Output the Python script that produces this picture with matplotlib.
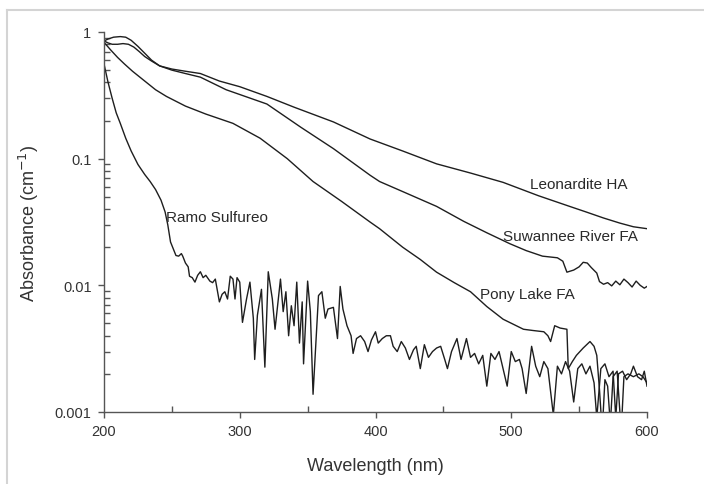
import matplotlib
matplotlib.use("Agg")
import matplotlib.pyplot as plt
from matplotlib.lines import Line2D
from matplotlib.ticker import NullFormatter

plt.rcParams['font.family'] = ['Liberation Sans', 'DejaVu Sans']

# wavelength (nm) / absorbance (cm^-1)
leonardite_x = [200, 203, 206, 210, 214, 218, 222, 226, 230, 235, 241, 250, 260, 271, 285,
                300, 320, 340, 369, 396, 420, 445, 470, 494, 520, 543, 555, 568, 580, 590, 600]
leonardite_y = [0.85, 0.82, 0.80, 0.80, 0.81, 0.80, 0.76, 0.70, 0.64, 0.59, 0.54, 0.51, 0.49,
                0.47, 0.41, 0.37, 0.31, 0.255, 0.195, 0.143, 0.115, 0.091, 0.077, 0.065,
                0.051, 0.042, 0.038, 0.034, 0.031, 0.029, 0.028]

suwannee_x = [200, 203, 207, 212, 216, 220, 225, 230, 235, 241, 250, 260, 271, 290, 320, 345,
              369, 396, 403, 420, 445, 465, 482, 499, 511, 523, 534, 538, 541, 546, 550, 553,
              556, 559, 563, 565, 568, 571, 574, 577, 580, 583, 586, 589, 592, 595, 598, 600]
suwannee_y = [0.85, 0.88, 0.91, 0.92, 0.91, 0.86, 0.77, 0.68, 0.60, 0.54, 0.50, 0.47, 0.44,
              0.35, 0.27, 0.177, 0.12, 0.074, 0.066, 0.055, 0.042, 0.032, 0.026, 0.0213,
              0.0188, 0.017, 0.0165, 0.0155, 0.0127, 0.0132, 0.0140, 0.0152, 0.0150, 0.0138,
              0.0125, 0.0107, 0.0102, 0.0105, 0.0099, 0.0108, 0.0101, 0.0112, 0.0105, 0.0097,
              0.0108, 0.0100, 0.0095, 0.0098]

pony_x = [200, 205, 210, 215, 221, 230, 238, 246, 260, 275, 295, 315, 335, 354, 375, 396, 403,
          420, 433, 445, 458, 470, 482, 494, 502, 509, 516, 524, 527, 529, 532, 536, 541, 542,
          545, 548, 553, 558, 561, 563, 565, 567, 569, 571, 573, 575, 578, 581, 583, 586, 590,
          594, 597, 600]
pony_y = [0.83, 0.72, 0.63, 0.56, 0.49, 0.41, 0.35, 0.31, 0.26, 0.225, 0.19, 0.145, 0.10,
          0.066, 0.046, 0.0316, 0.028, 0.020, 0.016, 0.0127, 0.0105, 0.0089, 0.0068, 0.0054,
          0.0049, 0.0045, 0.0044, 0.0043, 0.0040, 0.0036, 0.0048, 0.0046, 0.0045, 0.0022,
          0.0025, 0.0028, 0.0032, 0.0036, 0.0033, 0.0028, 0.0015, 0.0007, 0.0018, 0.0016,
          0.0008, 0.0019, 0.0021, 0.0007, 0.0019, 0.0020, 0.0019, 0.0020, 0.0019, 0.0017]

ramo_x = [200, 203, 206, 209, 212, 216, 220, 225, 230, 234, 238, 242, 245, 247, 249, 251, 253,
          255, 257, 258, 260, 262, 263, 265, 267, 269, 271, 273, 275, 278, 280, 282, 285, 287,
          289, 291, 293, 295, 296.5, 298, 300, 302, 305, 307.5, 310, 311, 313, 316, 318.5, 321,
          324, 326, 330, 332, 334, 336, 338, 340, 342, 344, 346, 347, 350, 352, 354, 358, 360.5,
          363, 365, 369, 372, 374, 376, 379, 382, 383.5, 386, 389, 392, 394.5, 397, 400, 402,
          405, 408, 411, 413, 416, 419, 422, 425, 428, 430, 433, 436, 439, 442, 445, 448, 451,
          453, 456, 460, 463, 467, 470, 473, 476, 479, 482, 485, 488, 491, 494, 497, 500, 503,
          506, 508, 511, 515, 518, 521, 524, 527, 531, 534, 537, 540, 543, 546, 549, 552, 555,
          558, 561, 563, 566, 569, 572, 575, 577, 579, 582, 585, 588, 590, 593, 596, 598, 600]
ramo_y = [0.56, 0.40, 0.30, 0.23, 0.19, 0.145, 0.115, 0.090, 0.075, 0.066, 0.057, 0.047,
          0.038, 0.030, 0.022, 0.0194, 0.0172, 0.017, 0.0178, 0.0170, 0.0150, 0.0140, 0.0118,
          0.0115, 0.0106, 0.0120, 0.0128, 0.0115, 0.0120, 0.0108, 0.0105, 0.0112, 0.0074,
          0.0085, 0.0089, 0.0078, 0.0118, 0.0112, 0.0078, 0.0115, 0.0106, 0.0051, 0.0078,
          0.0106, 0.0055, 0.0026, 0.0058, 0.0093, 0.00226, 0.0128, 0.0078, 0.0045, 0.0112,
          0.0062, 0.0089, 0.0040, 0.0069, 0.0048, 0.0106, 0.0035, 0.0074, 0.0024, 0.0108,
          0.0062, 0.00138, 0.0083, 0.0089, 0.0055, 0.0065, 0.0067, 0.0038, 0.0098, 0.0065,
          0.0048, 0.0040, 0.0029, 0.0038, 0.0040, 0.0036, 0.0030, 0.0037, 0.0043, 0.0035,
          0.0038, 0.0040, 0.0040, 0.0033, 0.0030, 0.0036, 0.0032, 0.0026, 0.0031, 0.0033,
          0.0022, 0.0034, 0.0027, 0.0030, 0.0032, 0.0033, 0.0026, 0.0022, 0.0030, 0.0038,
          0.0026, 0.0038, 0.0027, 0.0029, 0.0024, 0.0028, 0.0016, 0.0029, 0.0026, 0.0030,
          0.0022, 0.0016, 0.0030, 0.0025, 0.0026, 0.0022, 0.0014, 0.0033, 0.0023, 0.0019,
          0.0025, 0.0022, 0.00095, 0.0023, 0.0020, 0.0025, 0.0021, 0.0012, 0.0022, 0.0024,
          0.0020, 0.0023, 0.0017, 0.0009, 0.0022, 0.0024, 0.0019, 0.0021, 0.0009, 0.0020,
          0.0021, 0.0018, 0.0020, 0.0023, 0.0019, 0.0018, 0.0021, 0.0016]

# label text and anchor (left edge, vertical centre) in data units
labels = ["Leonardite HA", "Suwannee River FA", "Pony Lake FA", "Ramo Sulfureo"]
label_x = [514, 494, 477, 246]
label_y = [0.063, 0.0245, 0.0085, 0.0347]

y_major = [0.001, 0.01, 0.1, 1]
y_major_labels = ['0.001', '0.01', '0.1', '1']
y_minor = [m * d for d in (0.001, 0.01, 0.1) for m in range(2, 10)]

fig = plt.figure(figsize=(7.04, 4.85), dpi=100)
ax = fig.add_axes([104 / 704, 1 - 413 / 485, (647 - 104) / 704, (413 - 33) / 485])

line_kw = dict(color='#1e1e1e', lw=1.0)
ax.plot(leonardite_x, leonardite_y, **line_kw)
ax.plot(suwannee_x, suwannee_y, **line_kw)
ax.plot(pony_x, pony_y, **line_kw)
ax.plot(ramo_x, ramo_y, **line_kw)

for txt, tx, ty in zip(labels, label_x, label_y):
    ax.text(tx, ty, txt, fontsize=11, color='#2a2a2a', va='center', ha='left')

ax.set_yscale('log')
ax.set_xlim(200, 600)
ax.set_ylim(0.001, 1)
ax.set_xticks([200, 300, 400, 500, 600])
ax.set_xticks([250, 350, 450, 550], minor=True)
ax.set_yticks(y_major)
ax.set_yticklabels(y_major_labels)
ax.set_yticks(y_minor, minor=True)
ax.yaxis.set_minor_formatter(NullFormatter())

for s in ['top', 'right']:
    ax.spines[s].set_visible(False)
for s in ['left', 'bottom']:
    ax.spines[s].set_color('#555555')
    ax.spines[s].set_linewidth(1.0)

ax.tick_params(which='major', direction='out', length=4, width=1, color='#555555',
               labelsize=10.5, labelcolor='#333333', pad=5)
ax.tick_params(which='minor', direction='in', length=4, width=1, color='#555555')

ax.set_xlabel('Wavelength (nm)', fontsize=13, color='#333333', labelpad=13)
ax.set_ylabel('Absorbance (cm$^{-1}$)', fontsize=13, color='#333333', labelpad=10)

# light grey border of the original screenshot (top and left edges only)
fig.add_artist(Line2D([7 / 704, 1], [1 - 11 / 485, 1 - 11 / 485], color='#d4d4d4', lw=1.5,
                      transform=fig.transFigure))
fig.add_artist(Line2D([7 / 704, 7 / 704], [0, 1 - 11 / 485], color='#d4d4d4', lw=1.5,
                      transform=fig.transFigure))

fig.savefig('out.png', dpi=100)
